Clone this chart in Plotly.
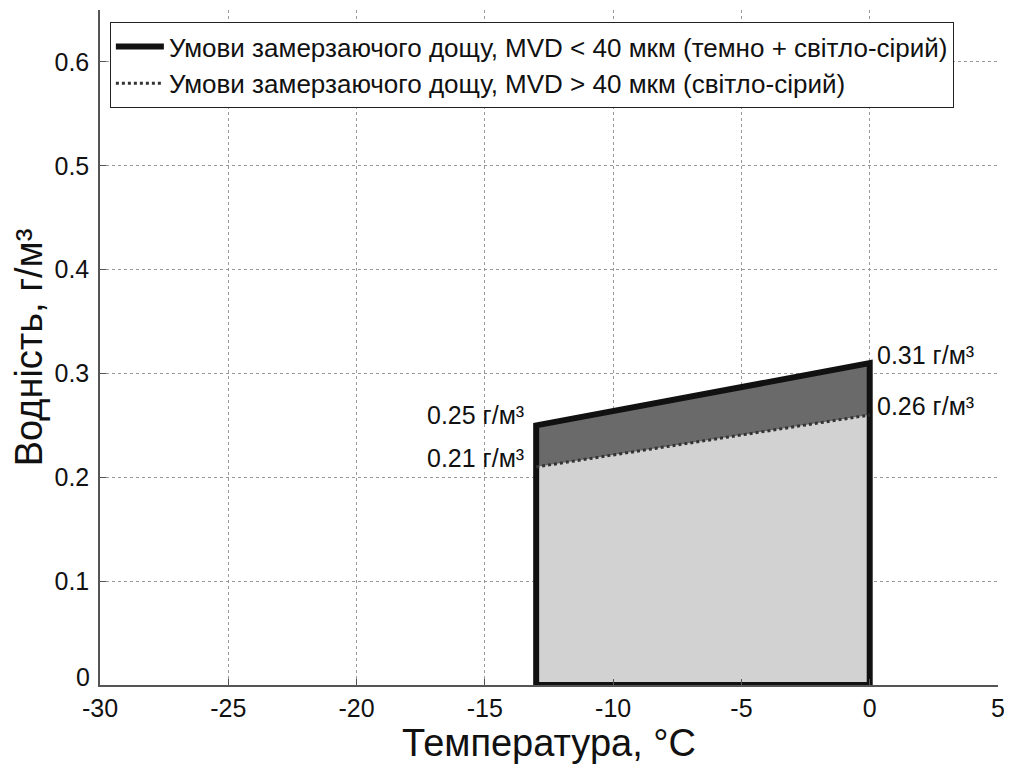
import plotly.graph_objects as go

temps = [-13, 0]
lwc_small = [0.25, 0.31]   # MVD < 40 мкм
lwc_large = [0.21, 0.26]   # MVD > 40 мкм
x_ticks = [-30, -25, -20, -15, -10, -5, 0, 5]
y_ticks = [0.1, 0.2, 0.3, 0.4, 0.5, 0.6]

FONT = "Liberation Sans, Arial, sans-serif"
t0, t1 = temps
fig = go.Figure()

# light grey region
fig.add_trace(go.Scatter(x=[t0, t0, t1, t1, t0], y=[0, lwc_large[0], lwc_large[1], 0, 0],
                         fill="toself", fillcolor="#d2d2d2", line=dict(width=0),
                         mode="lines", showlegend=False, hoverinfo="skip"))
# dark grey region
fig.add_trace(go.Scatter(x=[t0, t0, t1, t1, t0],
                         y=[lwc_large[0], lwc_small[0], lwc_small[1], lwc_large[1], lwc_large[0]],
                         fill="toself", fillcolor="#6a6a6a", line=dict(width=0),
                         mode="lines", showlegend=False, hoverinfo="skip"))
# thick outline MVD < 40
fig.add_trace(go.Scatter(x=[t0, t0, t1, t1, t0], y=[0, lwc_small[0], lwc_small[1], 0, 0],
                         mode="lines", line=dict(color="#111111", width=6),
                         name="Умови замерзаючого дощу, MVD < 40 мкм (темно + світло-сірий)"))
# dotted (hatched) boundary MVD > 40
fig.add_trace(go.Scatter(x=temps, y=lwc_large, mode="lines",
                         line=dict(color="#333333", width=3, dash="dot"),
                         name="Умови замерзаючого дощу, MVD > 40 мкм (світло-сірий)"))

lab_font = dict(family=FONT, size=25, color="#111111")
fig.add_annotation(x=t0, y=lwc_small[0], text="%.2f г/м³" % lwc_small[0], showarrow=False,
                   xanchor="right", yanchor="middle", xshift=-10, yshift=10, font=lab_font)
fig.add_annotation(x=t0, y=lwc_large[0], text="%.2f г/м³" % lwc_large[0], showarrow=False,
                   xanchor="right", yanchor="middle", xshift=-10, yshift=9, font=lab_font)
fig.add_annotation(x=t1, y=lwc_small[1], text="%.2f г/м³" % lwc_small[1], showarrow=False,
                   xanchor="left", yanchor="middle", xshift=5, yshift=8, font=lab_font)
fig.add_annotation(x=t1, y=lwc_large[1], text="%.2f г/м³" % lwc_large[1], showarrow=False,
                   xanchor="left", yanchor="middle", xshift=5, yshift=9, font=lab_font)

axis_font = dict(family=FONT, size=25, color="#111111")
# y tick "0", raised slightly like the reference
fig.add_annotation(x=0, xref="paper", y=0, yref="y", text="0", showarrow=False,
                   xanchor="right", yanchor="middle", xshift=-8, yshift=8, font=axis_font)

fig.update_layout(
    width=1004, height=761,
    margin=dict(l=92, r=14, t=2, b=84),
    paper_bgcolor="white", plot_bgcolor="white",
    font=dict(family=FONT, color="#111111"),
    legend=dict(x=0.011, y=0.982, xanchor="left", yanchor="top",
                bordercolor="#222222", borderwidth=1, bgcolor="white",
                font=dict(size=26, family=FONT), tracegroupgap=0, itemwidth=48),
    xaxis=dict(range=[-30, 5], tickvals=x_ticks, ticktext=[str(v) for v in x_ticks],
               showgrid=True, gridcolor="#999999", griddash="dot", gridwidth=1,
               zeroline=False, showline=True, linecolor="#555555", linewidth=1.5,
               ticks="inside", ticklen=6, tickcolor="#555555", tickfont=axis_font,
               automargin=False,
               title=dict(text="Температура, °C", font=dict(size=38, family=FONT), standoff=4)),
    yaxis=dict(range=[0, 0.65], tickvals=y_ticks, ticktext=["%.1f" % v for v in y_ticks],
               showgrid=True, gridcolor="#999999", griddash="dot", gridwidth=1,
               zeroline=False, showline=True, linecolor="#555555", linewidth=1.5,
               ticks="inside", ticklen=6, tickcolor="#555555", tickfont=axis_font,
               ticklabelstandoff=4, automargin=False,
               title=dict(text="Водність, г/м³", font=dict(size=38, family=FONT), standoff=6)),
)

fig.write_html("out.html")
